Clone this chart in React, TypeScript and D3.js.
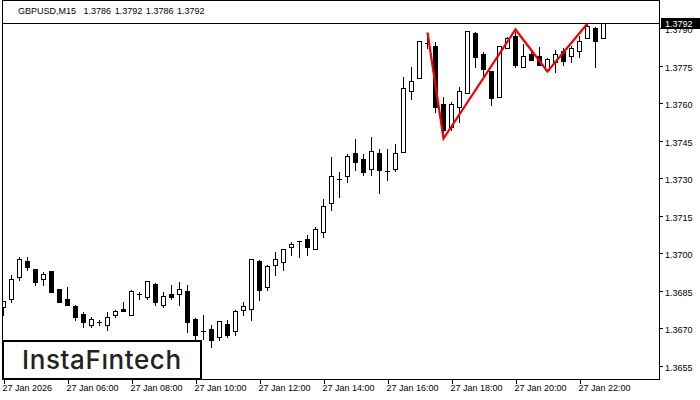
import * as d3 from 'd3';
import React, { useEffect, useRef } from 'react';

const opens = [
   1.36784, 1.36816, 1.36904, 1.36968, 1.36936, 1.36896, 1.36928, 1.36856, 1.36816, 1.36788,
   1.36756, 1.36712, 1.36724, 1.36712, 1.36752, 1.36776, 1.36752, 1.36836, 1.36824, 1.36876,
   1.36792, 1.36836, 1.36836, 1.36848, 1.36736, 1.36688, 1.36696, 1.36664, 1.36716, 1.36688,
   1.36772, 1.36776, 1.36968, 1.36864, 1.36952, 1.36964, 1.37024, 1.37048, 1.37056, 1.37016,
   1.37084, 1.372, 1.37296, 1.37308, 1.374, 1.37376, 1.37336, 1.374, 1.37328, 1.37336,
   1.37404, 1.37648, 1.377, 1.3784, 1.37828, 1.37596, 1.37504, 1.37584, 1.3764, 1.3788,
   1.37796, 1.37728, 1.37624, 1.3782, 1.37868, 1.37744, 1.37796, 1.37788, 1.37732, 1.37764,
   1.37808, 1.37788, 1.37808, 1.3786, 1.379, 1.3786,
];
const highs = [
   1.36812, 1.36916, 1.36988, 1.36988, 1.36936, 1.36928, 1.36928, 1.36856, 1.36868, 1.36796,
   1.36768, 1.36748, 1.36736, 1.36768, 1.36776, 1.36808, 1.36856, 1.36848, 1.36888, 1.36884,
   1.36848, 1.36876, 1.36888, 1.36876, 1.36744, 1.36756, 1.36716, 1.36728, 1.36736, 1.36776,
   1.36808, 1.36976, 1.36976, 1.36956, 1.37008, 1.37016, 1.37048, 1.37048, 1.37076, 1.37108,
   1.3722, 1.37388, 1.37328, 1.374, 1.3746, 1.374, 1.37468, 1.3742, 1.3742, 1.3744,
   1.37708, 1.37748, 1.37848, 1.37884, 1.37848, 1.37628, 1.37608, 1.37668, 1.37888, 1.37888,
   1.37808, 1.37728, 1.37828, 1.37868, 1.37888, 1.3784, 1.37816, 1.37828, 1.37784, 1.37816,
   1.37824, 1.37832, 1.37872, 1.3792, 1.37908, 1.3792,
];
const lows = [
   1.36752, 1.36804, 1.36892, 1.36932, 1.36872, 1.36872, 1.36844, 1.36804, 1.36792, 1.36732,
   1.36704, 1.36704, 1.36712, 1.36692, 1.36744, 1.36768, 1.36752, 1.36816, 1.36816, 1.36792,
   1.36784, 1.36816, 1.36792, 1.36684, 1.36652, 1.36656, 1.36624, 1.36652, 1.36664, 1.36672,
   1.36752, 1.36732, 1.36812, 1.36852, 1.36912, 1.36932, 1.36992, 1.36984, 1.36992, 1.37016,
   1.37064, 1.37172, 1.37224, 1.37284, 1.37332, 1.37312, 1.37312, 1.3724, 1.37292, 1.37328,
   1.37404, 1.37616, 1.377, 1.3782, 1.37564, 1.3748, 1.37492, 1.37524, 1.3764, 1.37744,
   1.37704, 1.37592, 1.37624, 1.3782, 1.37744, 1.37744, 1.37772, 1.37752, 1.37728, 1.37724,
   1.37752, 1.37764, 1.37784, 1.3786, 1.37744, 1.3786,
];
const closes = [
   1.36808, 1.36896, 1.36976, 1.36944, 1.36884, 1.36916, 1.36844, 1.36804, 1.36792, 1.36744,
   1.36724, 1.36736, 1.36724, 1.36744, 1.36768, 1.36768, 1.36848, 1.36836, 1.36888, 1.36804,
   1.36828, 1.36824, 1.36856, 1.36724, 1.36672, 1.36688, 1.36652, 1.36728, 1.36672, 1.36768,
   1.36788, 1.36976, 1.36852, 1.36948, 1.36976, 1.37016, 1.37036, 1.37048, 1.37024, 1.37096,
   1.37188, 1.37308, 1.37296, 1.37388, 1.37364, 1.37324, 1.37408, 1.37332, 1.37328, 1.374,
   1.3766, 1.37688, 1.37848, 1.3784, 1.37584, 1.37492, 1.37596, 1.37648, 1.37888, 1.37784,
   1.37736, 1.3762, 1.37828, 1.3786, 1.37752, 1.37788, 1.37772, 1.37752, 1.37776, 1.37796,
   1.37768, 1.3782, 1.37848, 1.37908, 1.37848, 1.3792,
];

// red double top pattern: bar index + price
const patternBars = [53, 55, 64, 68, 73];
const patternPrices = [1.37884, 1.3746, 1.37896, 1.37728, 1.3792];

const priceTicks = [1.379, 1.3775, 1.376, 1.3745, 1.373, 1.3715, 1.37, 1.3685, 1.367, 1.3655];
const timeTickBars = [0, 8, 16, 24, 32, 40, 48, 56, 64, 72];
const timeTickLabels = [
   '27 Jan 2026',
   '27 Jan 06:00',
   '27 Jan 08:00',
   '27 Jan 10:00',
   '27 Jan 12:00',
   '27 Jan 14:00',
   '27 Jan 16:00',
   '27 Jan 18:00',
   '27 Jan 20:00',
   '27 Jan 22:00',
];
const title = 'GBPUSD,M15  1.3786 1.3792 1.3786 1.3792';
const lastPrice = 1.3792;
const logoText = 'InstaFıntech';

const FONT = '"Liberation Sans", Arial, sans-serif';

const App = () => {
   const svgRef = useRef<SVGSVGElement | null>(null);

   useEffect(() => {
      const svg = d3.select(svgRef.current);
      svg.selectAll('*').remove();

      const plotLeft = 2;
      const plotRight = 659;
      const plotTop = 0;
      const plotBottom = 379;

      const xScale = d3.scaleLinear().domain([0, 75]).range([3, 603]);
      const yScale = d3.scaleLinear().domain([1.3655, 1.3792]).range([365.5, 23]);
      // snap to pixel centres so the candles stay crisp
      const px = (v: number) => Math.round(v) + 0.5;

      svg.append('rect').attr('width', 700).attr('height', 400).attr('fill', '#fff');

      svg.append('defs')
         .append('clipPath')
         .attr('id', 'plot')
         .append('rect')
         .attr('x', plotLeft)
         .attr('y', plotTop)
         .attr('width', plotRight - plotLeft)
         .attr('height', plotBottom - plotTop);

      const plot = svg.append('g').attr('clip-path', 'url(#plot)');

      opens.forEach((open, i) => {
         const close = closes[i];
         const cx = px(xScale(i));
         const up = close >= open;
         plot.append('line')
            .attr('x1', cx)
            .attr('x2', cx)
            .attr('y1', px(yScale(highs[i])))
            .attr('y2', px(yScale(lows[i])) + 0.5)
            .attr('stroke', '#000')
            .attr('shape-rendering', 'crispEdges');
         const top = px(yScale(Math.max(open, close)));
         const bottom = px(yScale(Math.min(open, close)));
         if (top === bottom) {
            plot.append('line')
               .attr('x1', cx - 2.5)
               .attr('x2', cx + 2.5)
               .attr('y1', top)
               .attr('y2', top)
               .attr('stroke', '#000')
               .attr('shape-rendering', 'crispEdges');
         } else {
            plot.append('rect')
               .attr('x', cx - 2)
               .attr('y', top)
               .attr('width', 4)
               .attr('height', bottom - top)
               .attr('fill', up ? '#fff' : '#000')
               .attr('stroke', '#000')
               .attr('shape-rendering', 'crispEdges');
         }
      });

      // current price line
      plot.append('line')
         .attr('x1', plotLeft)
         .attr('x2', plotRight)
         .attr('y1', px(yScale(lastPrice)))
         .attr('y2', px(yScale(lastPrice)))
         .attr('stroke', '#000')
         .attr('shape-rendering', 'crispEdges');

      const patternLine = d3
         .line<number>()
         .x((_, idx) => xScale(patternBars[idx]) + 0.5)
         .y((val) => yScale(val) + 0.5);
      plot.append('path')
         .datum(patternPrices)
         .attr('fill', 'none')
         .attr('stroke', '#f00000')
         .attr('stroke-width', 2.2)
         .attr('d', patternLine);

      // frame
      svg.append('path')
         .attr('d', `M${plotLeft + 0.5},${plotBottom + 0.5}V${plotTop + 0.5}H${plotRight + 0.5}V${plotBottom + 0.5}H${plotLeft + 0.5}`)
         .attr('fill', 'none')
         .attr('stroke', '#000')
         .attr('shape-rendering', 'crispEdges');

      const yAxis = d3
         .axisRight(yScale)
         .tickValues(priceTicks)
         .tickSize(3)
         .tickPadding(2)
         .tickFormat(d3.format('.4f') as any);
      const yG = svg.append('g').attr('transform', `translate(${plotRight + 1},0)`).call(yAxis);
      yG.select('.domain').remove();
      yG.selectAll('line').attr('stroke', '#000').attr('shape-rendering', 'crispEdges');
      yG.selectAll('text')
         .attr('font-family', FONT)
         .attr('font-size', 9)
         .attr('fill', '#000')
         .attr('dy', '0.5em');

      const xAxis = d3
         .axisBottom(xScale)
         .tickValues(timeTickBars)
         .tickSize(4)
         .tickPadding(1)
         .tickFormat((_, i) => timeTickLabels[i]);
      const xG = svg.append('g').attr('transform', `translate(0.5,${plotBottom + 1})`).call(xAxis);
      xG.select('.domain').remove();
      xG.selectAll('line').attr('stroke', '#000').attr('shape-rendering', 'crispEdges');
      xG.selectAll('text')
         .attr('font-family', FONT)
         .attr('font-size', 9)
         .attr('fill', '#000')
         .attr('text-anchor', 'start')
         .attr('dx', -1.5);

      // last price label
      svg.append('rect')
         .attr('x', plotRight + 2)
         .attr('y', px(yScale(lastPrice)) - 5.5)
         .attr('width', 39)
         .attr('height', 11)
         .attr('fill', '#000');
      svg.append('text')
         .attr('x', plotRight + 6)
         .attr('y', px(yScale(lastPrice)) + 3.5)
         .attr('font-family', FONT)
         .attr('font-size', 9)
         .attr('fill', '#fff')
         .text(d3.format('.4f')(lastPrice));

      svg.append('text')
         .attr('x', 18)
         .attr('y', 14)
         .attr('font-family', FONT)
         .attr('font-size', 9)
         .attr('fill', '#000')
         .style('white-space', 'pre')
         .style('word-spacing', '1.2px')
         .text(title);

      // logo box
      svg.append('rect')
         .attr('x', 3)
         .attr('y', 341)
         .attr('width', 198)
         .attr('height', 38)
         .attr('fill', '#fff')
         .attr('stroke', '#000')
         .attr('stroke-width', 2);
      svg.append('text')
         .attr('x', 22)
         .attr('y', 369)
         .attr('font-family', 'Inter, "Noto Sans", sans-serif')
         .attr('font-size', 26)
         .attr('font-weight', 500)
         .attr('letter-spacing', 0.6)
         .attr('fill', '#222')
         .text(logoText);
   }, []);

   return (
      <svg
         ref={svgRef}
         width={700}
         height={400}
         style={{ position: 'absolute', left: 0, top: 0, display: 'block' }}
      />
   );
};

export default App;
